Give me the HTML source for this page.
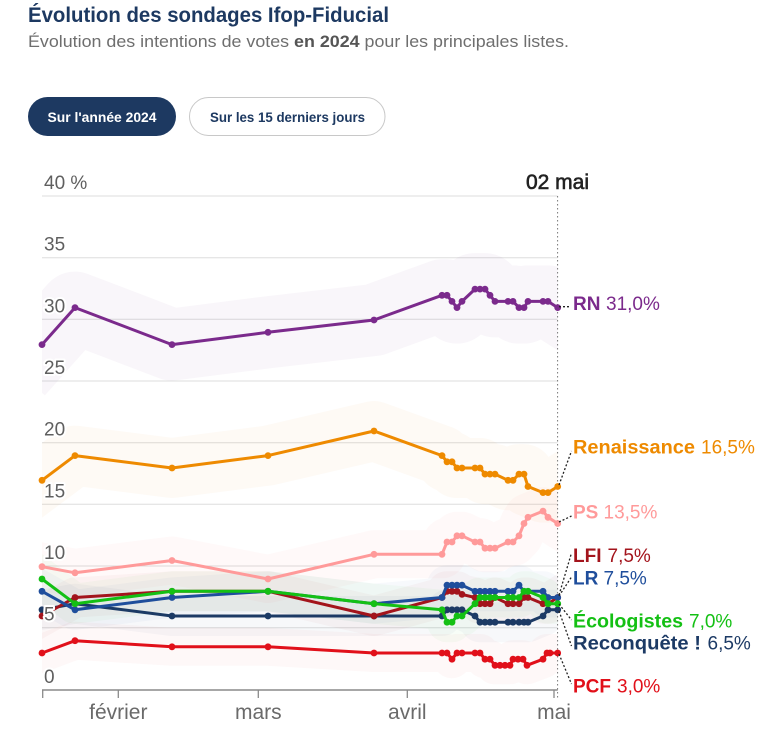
<!DOCTYPE html>
<html><head><meta charset="utf-8">
<style>
html,body{margin:0;padding:0;background:#fff;}
svg{display:block;}
text{font-family:"Liberation Sans",sans-serif;}
</style></head>
<body>
<svg width="762" height="730" viewBox="0 0 762 730" xmlns="http://www.w3.org/2000/svg">
<defs>
<clipPath id="pc"><rect x="42" y="190" width="515.7" height="500"/></clipPath>
<marker id="mRN" markerUnits="userSpaceOnUse" markerWidth="10" markerHeight="10" refX="5" refY="5"><circle cx="5" cy="5" r="3.4" fill="#7b2a8c"/></marker>
<marker id="mREN" markerUnits="userSpaceOnUse" markerWidth="10" markerHeight="10" refX="5" refY="5"><circle cx="5" cy="5" r="3.4" fill="#ee8a00"/></marker>
<marker id="mPS" markerUnits="userSpaceOnUse" markerWidth="10" markerHeight="10" refX="5" refY="5"><circle cx="5" cy="5" r="3.4" fill="#ff9a9a"/></marker>
<marker id="mPCF" markerUnits="userSpaceOnUse" markerWidth="10" markerHeight="10" refX="5" refY="5"><circle cx="5" cy="5" r="3.4" fill="#e1101a"/></marker>
<marker id="mLFI" markerUnits="userSpaceOnUse" markerWidth="10" markerHeight="10" refX="5" refY="5"><circle cx="5" cy="5" r="3.4" fill="#a3141c"/></marker>
<marker id="mLR" markerUnits="userSpaceOnUse" markerWidth="10" markerHeight="10" refX="5" refY="5"><circle cx="5" cy="5" r="3.4" fill="#1f4e9c"/></marker>
<marker id="mECO" markerUnits="userSpaceOnUse" markerWidth="10" markerHeight="10" refX="5" refY="5"><circle cx="5" cy="5" r="3.4" fill="#14c014"/></marker>
<marker id="mREC" markerUnits="userSpaceOnUse" markerWidth="10" markerHeight="10" refX="5" refY="5"><circle cx="5" cy="5" r="3.4" fill="#1c3a65"/></marker>
</defs>
<rect width="762" height="730" fill="#fff"/>

<!-- Title -->
<text x="28" y="22" font-size="21" font-weight="bold" fill="#1d3961" textLength="361" lengthAdjust="spacingAndGlyphs">Évolution des sondages Ifop-Fiducial</text>
<text x="28" y="47" font-size="17" fill="#6e6e6e" textLength="541" lengthAdjust="spacingAndGlyphs">Évolution des intentions de votes <tspan font-weight="bold" fill="#555">en 2024</tspan> pour les principales listes.</text>

<!-- Buttons -->
<rect x="28" y="97" width="148" height="39" rx="19.5" fill="#1d3961"/>
<text x="102" y="122" font-size="14" font-weight="bold" fill="#fff" text-anchor="middle" textLength="109" lengthAdjust="spacingAndGlyphs">Sur l'année 2024</text>
<rect x="189.5" y="97.5" width="195.5" height="38" rx="19" fill="#fff" stroke="#c8c8c8" stroke-width="1"/>
<text x="287.5" y="122" font-size="14" font-weight="bold" fill="#1d3961" text-anchor="middle" textLength="155" lengthAdjust="spacingAndGlyphs">Sur les 15 derniers jours</text>

<!-- Gridlines -->
<g stroke="#dddddd" stroke-width="1">
<line x1="42" x2="557.5" y1="196" y2="196"/>
<line x1="42" x2="557.5" y1="257.7" y2="257.7"/>
<line x1="42" x2="557.5" y1="319.3" y2="319.3"/>
<line x1="42" x2="557.5" y1="381" y2="381"/>
<line x1="42" x2="557.5" y1="442.7" y2="442.7"/>
<line x1="42" x2="557.5" y1="504.3" y2="504.3"/>
<line x1="42" x2="557.5" y1="566" y2="566"/>
<line x1="42" x2="557.5" y1="627.7" y2="627.7"/>
</g>

<!-- Bands -->
<g clip-path="url(#pc)" fill="none" stroke-linejoin="round" stroke-linecap="square">
<polyline stroke="#7b2a8c" stroke-opacity="0.045" stroke-width="72" points="42,344.6 75,307.6 172,344.6 268,332.3 374,320 442,295.3 447,295.3 452,301.4 457,307.6 462,301.4 475,289.1 480,289.1 485,289.1 490,295.3 495,301.4 508,301.4 513,301.4 519,307.6 524,307.6 528,301.4 543,301.4 548,301.4 557.7,307.6"/>
<polyline stroke="#ee8a00" stroke-opacity="0.04" stroke-width="60" points="42,480.3 75,455.6 172,468 268,455.6 374,431 442,455.6 447,461.8 452,461.8 457,468 462,468 475,468 480,468 485,474.1 490,474.1 495,474.1 508,480.3 513,480.3 519,474.1 524,474.1 528,486.5 543,492.6 548,492.6 557.7,486.5"/>
<polyline stroke="#ff7070" stroke-opacity="0.04" stroke-width="48" points="42,566.7 75,572.8 172,560.5 268,579 374,554.3 442,554.3 447,542 452,542 457,535.8 462,535.8 475,542 480,542 485,548.2 490,548.2 495,548.2 508,542 513,542 519,535.8 524,523.5 528,517.3 543,511.1 548,517.3 557.7,523.5"/>
<polyline stroke="#e1101a" stroke-opacity="0.03" stroke-width="38" points="42,653 75,640.7 172,646.8 268,646.8 374,653 442,653 447,653 452,659.2 457,653 462,653 475,653 480,653 485,659.2 490,659.2 495,665.3 500,665.3 505,665.3 510,665.3 513,659.2 518,659.2 523,659.2 527,665.3 543,659.2 547,653 550,653 557.7,653"/>
<polyline stroke="#a3141c" stroke-opacity="0.035" stroke-width="40" points="42,616 75,597.5 172,591.3 268,591.3 374,616 442,597.5 447,591.3 452,591.3 457,591.3 462,594.4 475,597.5 480,603.7 485,603.7 490,603.7 495,597.5 508,603.7 513,603.7 519,603.7 524,597.5 528,597.5 543,603.7 548,603.7 557.7,597.5"/>
<polyline stroke="#1f4e9c" stroke-opacity="0.035" stroke-width="40" points="42,591.3 75,609.8 172,597.5 268,591.3 374,603.7 442,597.5 447,585.2 452,585.2 457,585.2 462,585.2 475,591.3 480,591.3 485,591.3 490,591.3 495,591.3 508,591.3 513,591.3 519,585.2 524,591.3 528,591.3 543,591.3 548,597.5 557.7,597.5"/>
<polyline stroke="#14c014" stroke-opacity="0.035" stroke-width="40" points="42,579 75,603.7 172,591.3 268,591.3 374,603.7 442,609.8 447,622.2 452,622.2 457,616 462,616 475,603.7 480,597.5 485,597.5 490,597.5 495,597.5 508,597.5 513,597.5 519,597.5 524,591.3 528,591.3 543,597.5 548,603.7 557.7,603.7"/>
<polyline stroke="#1c3a65" stroke-opacity="0.035" stroke-width="40" points="42,609.8 75,603.7 172,616 268,616 374,616 442,616 447,609.8 452,609.8 457,609.8 462,609.8 475,616 480,622.2 485,622.2 490,622.2 495,622.2 508,622.2 513,622.2 519,622.2 524,622.2 528,622.2 543,616 548,609.8 557.7,609.8"/>
</g>

<!-- Vertical dotted line -->
<line x1="557.6" y1="196" x2="557.6" y2="698" stroke="#777" stroke-width="1" stroke-dasharray="1.5 2.5"/>

<!-- Series lines -->
<g fill="none" stroke-width="3" stroke-linejoin="round" stroke-linecap="round">
<polyline stroke="#e1101a" marker-start="url(#mPCF)" marker-mid="url(#mPCF)" marker-end="url(#mPCF)" points="42,653 75,640.7 172,646.8 268,646.8 374,653 442,653 447,653 452,659.2 457,653 462,653 475,653 480,653 485,659.2 490,659.2 495,665.3 500,665.3 505,665.3 510,665.3 513,659.2 518,659.2 523,659.2 527,665.3 543,659.2 547,653 550,653 557.7,653"/>
<polyline stroke="#1c3a65" marker-start="url(#mREC)" marker-mid="url(#mREC)" marker-end="url(#mREC)" points="42,609.8 75,603.7 172,616 268,616 374,616 442,616 447,609.8 452,609.8 457,609.8 462,609.8 475,616 480,622.2 485,622.2 490,622.2 495,622.2 508,622.2 513,622.2 519,622.2 524,622.2 528,622.2 543,616 548,609.8 557.7,609.8"/>
<polyline stroke="#a3141c" marker-start="url(#mLFI)" marker-mid="url(#mLFI)" marker-end="url(#mLFI)" points="42,616 75,597.5 172,591.3 268,591.3 374,616 442,597.5 447,591.3 452,591.3 457,591.3 462,594.4 475,597.5 480,603.7 485,603.7 490,603.7 495,597.5 508,603.7 513,603.7 519,603.7 524,597.5 528,597.5 543,603.7 548,603.7 557.7,597.5"/>
<polyline stroke="#1f4e9c" marker-start="url(#mLR)" marker-mid="url(#mLR)" marker-end="url(#mLR)" points="42,591.3 75,609.8 172,597.5 268,591.3 374,603.7 442,597.5 447,585.2 452,585.2 457,585.2 462,585.2 475,591.3 480,591.3 485,591.3 490,591.3 495,591.3 508,591.3 513,591.3 519,585.2 524,591.3 528,591.3 543,591.3 548,597.5 557.7,597.5"/>
<polyline stroke="#14c014" marker-start="url(#mECO)" marker-mid="url(#mECO)" marker-end="url(#mECO)" points="42,579 75,603.7 172,591.3 268,591.3 374,603.7 442,609.8 447,622.2 452,622.2 457,616 462,616 475,603.7 480,597.5 485,597.5 490,597.5 495,597.5 508,597.5 513,597.5 519,597.5 524,591.3 528,591.3 543,597.5 548,603.7 557.7,603.7"/>
<polyline stroke="#ff9a9a" marker-start="url(#mPS)" marker-mid="url(#mPS)" marker-end="url(#mPS)" points="42,566.7 75,572.8 172,560.5 268,579 374,554.3 442,554.3 447,542 452,542 457,535.8 462,535.8 475,542 480,542 485,548.2 490,548.2 495,548.2 508,542 513,542 519,535.8 524,523.5 528,517.3 543,511.1 548,517.3 557.7,523.5"/>
<polyline stroke="#ee8a00" marker-start="url(#mREN)" marker-mid="url(#mREN)" marker-end="url(#mREN)" points="42,480.3 75,455.6 172,468 268,455.6 374,431 442,455.6 447,461.8 452,461.8 457,468 462,468 475,468 480,468 485,474.1 490,474.1 495,474.1 508,480.3 513,480.3 519,474.1 524,474.1 528,486.5 543,492.6 548,492.6 557.7,486.5"/>
<polyline stroke="#7b2a8c" marker-start="url(#mRN)" marker-mid="url(#mRN)" marker-end="url(#mRN)" points="42,344.6 75,307.6 172,344.6 268,332.3 374,320 442,295.3 447,295.3 452,301.4 457,307.6 462,301.4 475,289.1 480,289.1 485,289.1 490,295.3 495,301.4 508,301.4 513,301.4 519,307.6 524,307.6 528,301.4 543,301.4 548,301.4 557.7,307.6"/>
</g>

<!-- Y labels with halo -->
<g font-size="19" fill="#5f5f5f" stroke="#fff" stroke-width="4" stroke-linejoin="round" style="paint-order:stroke">
<text x="44" y="189">40 %</text>
<text x="44" y="250.7">35</text>
<text x="44" y="312.3">30</text>
<text x="44" y="374">25</text>
<text x="44" y="435.7">20</text>
<text x="44" y="497.3">15</text>
<text x="44" y="559">10</text>
<text x="44" y="620.7">5</text>
<text x="44" y="683">0</text>
</g>

<!-- Date header -->
<text x="557.5" y="189" font-size="21" fill="#222" stroke="#222" stroke-width="0.6" text-anchor="middle">02 mai</text>

<!-- X axis -->
<line x1="42" x2="557.7" y1="690" y2="690" stroke="#8a8a8a" stroke-width="1.5"/>
<g stroke="#8a8a8a" stroke-width="1.3">
<line x1="42.7" x2="42.7" y1="690" y2="698"/>
<line x1="118.3" x2="118.3" y1="690" y2="698"/>
<line x1="258.3" x2="258.3" y1="690" y2="698"/>
<line x1="407.3" x2="407.3" y1="690" y2="698"/>
<line x1="554" x2="554" y1="690" y2="698"/>
</g>
<g font-size="21" fill="#6a6a6a" text-anchor="middle">
<text x="118.3" y="719">février</text>
<text x="258.3" y="719">mars</text>
<text x="407.3" y="719">avril</text>
<text x="554" y="719">mai</text>
</g>

<!-- Leader lines -->
<g stroke="#222" stroke-width="1.3" stroke-dasharray="2 2" fill="none">
<line x1="559" y1="306.7" x2="571" y2="306.7"/>
<line x1="559" y1="485" x2="571.5" y2="451"/>
<line x1="559" y1="522" x2="571.5" y2="516"/>
<line x1="559" y1="595" x2="571.5" y2="553"/>
<line x1="559" y1="596" x2="571.5" y2="577"/>
<line x1="559" y1="604" x2="571.5" y2="620"/>
<line x1="559" y1="611" x2="571.5" y2="646"/>
<line x1="559" y1="654" x2="571.5" y2="684"/>
</g>

<!-- Right labels -->
<g font-size="19">
<text y="310" fill="#7b2a8c"><tspan x="573" font-weight="bold">RN</tspan><tspan x="606">31,0%</tspan></text>
<text y="453.5" fill="#ee8a00"><tspan x="573" font-weight="bold" textLength="122" lengthAdjust="spacingAndGlyphs">Renaissance</tspan><tspan x="701">16,5%</tspan></text>
<text y="518.5" fill="#ff9a9a"><tspan x="573" font-weight="bold">PS</tspan><tspan x="603.5">13,5%</tspan></text>
<text y="562" fill="#a3141c"><tspan x="573" font-weight="bold">LFI</tspan><tspan x="607.5">7,5%</tspan></text>
<text y="584.5" fill="#1f4e9c"><tspan x="573" font-weight="bold">LR</tspan><tspan x="603.5">7,5%</tspan></text>
<text y="627.5" fill="#14c014"><tspan x="573" font-weight="bold" textLength="110" lengthAdjust="spacingAndGlyphs">Écologistes</tspan><tspan x="689">7,0%</tspan></text>
<text y="649.5" fill="#1c3a65"><tspan x="573" font-weight="bold" textLength="128" lengthAdjust="spacingAndGlyphs">Reconquête !</tspan><tspan x="707.5">6,5%</tspan></text>
<text y="692.5" fill="#e1101a"><tspan x="573" font-weight="bold">PCF</tspan><tspan x="617">3,0%</tspan></text>
</g>
</svg>
</body></html>
